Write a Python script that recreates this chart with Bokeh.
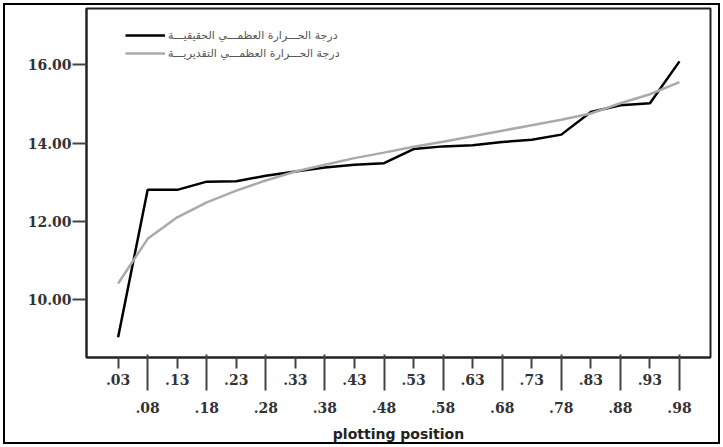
from bokeh.plotting import figure
from bokeh.models import (FixedTicker, Legend, LegendItem, Range1d, NumeralTickFormatter,
                          LinearAxis)
from bokeh.embed import file_html
from bokeh.resources import INLINE

positions = [".03", ".08", ".13", ".18", ".23", ".28", ".33", ".38", ".43", ".48",
             ".53", ".58", ".63", ".68", ".73", ".78", ".83", ".88", ".93", ".98"]
actual = [9.05, 12.81, 12.81, 13.02, 13.03, 13.17, 13.28, 13.38, 13.45, 13.49,
          13.85, 13.92, 13.95, 14.03, 14.09, 14.22, 14.80, 14.97, 15.02, 16.09]
estimated = [10.42, 11.56, 12.11, 12.49, 12.79, 13.05, 13.28, 13.45, 13.62, 13.76,
             13.91, 14.04, 14.18, 14.32, 14.46, 14.60, 14.76, 15.02, 15.25, 15.56]
y_ticks = [10, 12, 14, 16]
label_actual = "درجة الحـــرارة العظمـــي الحقيقيـــة"
label_estimated = "درجة الحـــرارة العظمـــي التقديريـــة"

xs = list(range(len(positions)))

p = figure(width=723, height=447, output_backend="svg", toolbar_location=None,
           x_range=Range1d(-1.07, 20.05), y_range=Range1d(8.53, 17.44),
           min_border_left=86, min_border_right=13, min_border_top=8, min_border_bottom=90,
           x_axis_location=None)
# outer frame around the whole picture
p.styles = {"outline": "2.5px solid black", "outline-offset": "-5px"}
p.border_fill_color = None
p.grid.visible = False
p.outline_line_color = "#222"
p.outline_line_width = 2
p.background_fill_color = "white"

r1 = p.line(xs, actual, line_color="black", line_width=2.5)
r2 = p.line(xs, estimated, line_color="#aaaaaa", line_width=2.5)


def style_x(ax):
    ax.major_tick_line_width = 2
    ax.major_tick_line_color = "#444"
    ax.minor_tick_line_color = None
    ax.major_label_text_font = "DejaVu Serif"
    ax.major_label_text_font_style = "bold"
    ax.major_label_text_font_size = "14px"
    ax.major_label_text_color = "#333"


# upper row of tick labels (short ticks)
xa1 = LinearAxis(ticker=FixedTicker(ticks=xs[0::2], minor_ticks=[]),
                 major_label_overrides={i: positions[i] for i in xs[0::2]})
style_x(xa1)
xa1.major_tick_out = 11
xa1.major_tick_in = 0
xa1.major_label_standoff = 5
xa1.axis_line_width = 2
xa1.axis_line_color = "#222"
p.add_layout(xa1, "below")

# lower row of tick labels (long ticks)
xa2 = LinearAxis(ticker=FixedTicker(ticks=xs[1::2], minor_ticks=[]),
                 major_label_overrides={i: positions[i] for i in xs[1::2]})
style_x(xa2)
xa2.major_tick_out = 3
xa2.major_tick_in = 33
xa2.major_label_standoff = 11
xa2.axis_line_color = None
xa2.axis_label = "plotting position"
xa2.axis_label_text_font = "DejaVu Sans"
xa2.axis_label_text_font_style = "bold"
xa2.axis_label_text_font_size = "14px"
xa2.axis_label_text_color = "#222"
xa2.axis_label_standoff = 10
p.add_layout(xa2, "below")

ya = p.yaxis[0]
ya.ticker = FixedTicker(ticks=y_ticks, minor_ticks=[])
ya.formatter = NumeralTickFormatter(format="0.00")
ya.major_tick_out = 14
ya.major_tick_in = 0
ya.major_tick_line_width = 2
ya.major_tick_line_color = "#444"
ya.axis_line_width = 2
ya.axis_line_color = "#222"
ya.major_label_text_font = "DejaVu Serif"
ya.major_label_text_font_style = "bold"
ya.major_label_text_font_size = "14px"
ya.major_label_text_color = "#333"
ya.major_label_standoff = 1

legend = Legend(items=[LegendItem(label=label_actual, renderers=[r1]),
                       LegendItem(label=label_estimated, renderers=[r2])],
                location=(39, 296), border_line_alpha=0, background_fill_alpha=0,
                glyph_width=40, glyph_height=16, label_height=16,
                label_text_font="DejaVu Sans", label_text_font_size="11px",
                label_text_color="#555", padding=0, margin=0, spacing=2,
                label_standoff=3)
p.add_layout(legend)

open("out.html", "w").write(file_html(p, INLINE))
